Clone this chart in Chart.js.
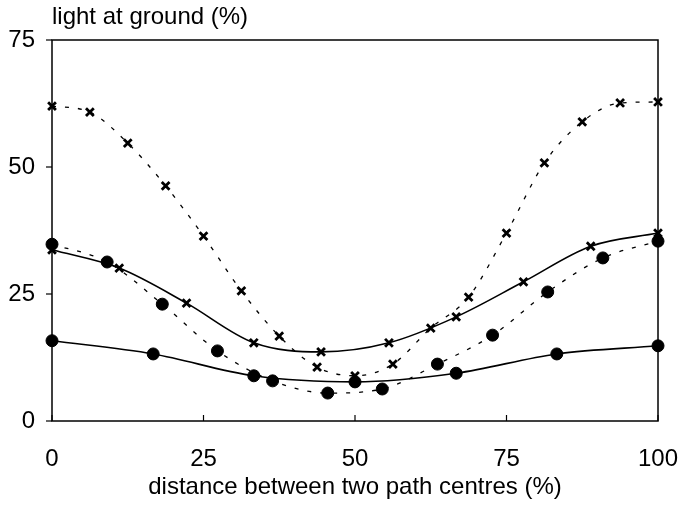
<!DOCTYPE html>
<html lang="en">
<head>
    <meta charset="UTF-8">
    <title>Light at ground</title>
    <script src="https://cdn.jsdelivr.net/npm/chart.js"></script>
    <style>
        body { margin: 0; background: #ffffff; }
        #wrap { width: 678px; height: 508px; }
    </style>
</head>
<body>
    <div id="wrap"><canvas id="chart" width="678" height="508"></canvas></div>
    <script>
        // Axis ticks
        const xTicks = [0, 25, 50, 75, 100];
        const yTicks = [0, 25, 50, 75];

        // Crosses, dashed curve
        const crossDashX = [0, 6.25, 12.5, 18.75, 25, 31.25, 37.5, 43.75, 50, 56.25, 62.5, 68.75, 75, 81.25, 87.5, 93.75, 100];
        const crossDashY = [62, 60.8, 54.7, 46.3, 36.4, 25.6, 16.7, 10.6, 8.9, 11.2, 18.3, 24.4, 37, 50.8, 58.9, 62.6, 62.8];

        // Crosses, solid curve
        const crossSolidX = [0, 11.1, 22.2, 33.3, 44.4, 55.6, 66.7, 77.8, 88.9, 100];
        const crossSolidY = [33.7, 30.1, 23.2, 15.4, 13.6, 15.4, 20.5, 27.4, 34.4, 37];

        // Dots, dashed curve
        const dotDashX = [0, 9.1, 18.2, 27.3, 36.4, 45.5, 54.5, 63.6, 72.7, 81.8, 90.9, 100];
        const dotDashY = [34.8, 31.3, 23, 13.8, 7.9, 5.5, 6.3, 11.2, 16.9, 25.4, 32.1, 35.4];

        // Dots, solid curve
        const dotSolidX = [0, 16.7, 33.3, 50, 66.7, 83.3, 100];
        const dotSolidY = [15.8, 13.2, 8.9, 7.7, 9.4, 13.2, 14.8];

        const pts = (xs, ys) => xs.map((x, i) => ({ x: x, y: ys[i] }));
        const font = "'Liberation Sans', Arial, sans-serif";

        function series(xs, ys, style, dashed) {
            const isDot = style === 'circle';
            return {
                data: pts(xs, ys),
                showLine: true,
                borderColor: '#000',
                backgroundColor: '#000',
                borderWidth: dashed ? 1.3 : 1.6,
                borderDash: dashed ? [4, 9] : [],
                cubicInterpolationMode: 'monotone',
                pointStyle: style,
                pointRadius: isDot ? 6 : 5.5,
                pointBorderWidth: isDot ? 1 : 2.8,
                pointBackgroundColor: '#000',
                pointBorderColor: '#000',
                clip: false
            };
        }

        // frame, ticks and the y title
        const framePlugin = {
            id: 'frame',
            afterDraw(chart) {
                const ctx = chart.ctx;
                const a = chart.chartArea;
                const xs = chart.scales.x, ys = chart.scales.y;
                ctx.save();
                ctx.strokeStyle = '#000';
                ctx.lineWidth = 1.5;
                ctx.strokeRect(a.left, a.top, a.right - a.left, a.bottom - a.top);
                ctx.lineWidth = 1.2;
                yTicks.forEach(v => {
                    const p = ys.getPixelForValue(v);
                    ctx.beginPath();
                    ctx.moveTo(a.left - 6, p);
                    ctx.lineTo(a.left, p);
                    ctx.stroke();
                });
                xTicks.forEach(v => {
                    const p = xs.getPixelForValue(v);
                    ctx.beginPath();
                    ctx.moveTo(p, a.bottom);
                    ctx.lineTo(p, a.bottom - 6);
                    ctx.stroke();
                });
                ctx.fillStyle = '#000';
                ctx.font = '24px ' + font;
                ctx.textAlign = 'left';
                ctx.textBaseline = 'middle';
                ctx.fillText('light at ground (%)', 52, 17);
                ctx.restore();
            }
        };

        new Chart(document.getElementById('chart').getContext('2d'), {
            type: 'scatter',
            data: {
                datasets: [
                    series(crossDashX, crossDashY, 'crossRot', true),
                    series(crossSolidX, crossSolidY, 'crossRot', false),
                    series(dotDashX, dotDashY, 'circle', true),
                    series(dotSolidX, dotSolidY, 'circle', false)
                ]
            },
            options: {
                responsive: false,
                animation: false,
                layout: { padding: { left: 0, right: 20, top: 40, bottom: 0 } },
                plugins: {
                    legend: { display: false },
                    tooltip: { enabled: false }
                },
                scales: {
                    x: {
                        type: 'linear',
                        min: 0,
                        max: 100,
                        grid: { display: false, drawTicks: false },
                        border: { display: false },
                        afterBuildTicks: s => { s.ticks = xTicks.map(v => ({ value: v })); },
                        afterFit: s => { s.height = 87; s.paddingLeft = 0; s.paddingRight = 0; },
                        ticks: { color: '#000', font: { family: font, size: 24 }, padding: 24, maxRotation: 0 },
                        title: {
                            display: true,
                            text: 'distance between two path centres (%)',
                            color: '#000',
                            font: { family: font, size: 24 },
                            padding: { top: 0, bottom: 6 }
                        }
                    },
                    y: {
                        type: 'linear',
                        min: 0,
                        max: 75,
                        grid: { display: false, drawTicks: false },
                        border: { display: false },
                        afterBuildTicks: s => { s.ticks = yTicks.map(v => ({ value: v })); },
                        afterFit: s => { s.width = 52; s.paddingTop = 0; s.paddingBottom = 0; },
                        ticks: { color: '#000', font: { family: font, size: 24 }, padding: 17 }
                    }
                }
            },
            plugins: [framePlugin]
        });
    </script>
</body>
</html>
